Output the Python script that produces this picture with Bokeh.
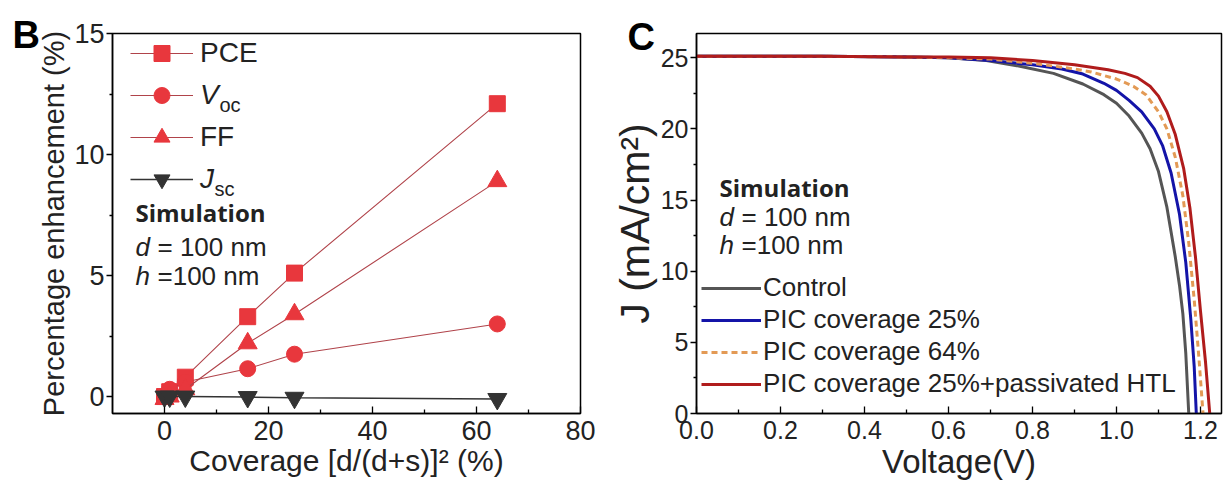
from bokeh.plotting import figure
from bokeh.layouts import row
from bokeh.models import Range1d, Legend, LegendItem, Label, FixedTicker, PrintfTickFormatter
from bokeh.embed import file_html
from bokeh.resources import INLINE

# ---------------- Panel B data ----------------
coverage = [0, 1, 4, 16, 25, 64]
pce = [0.0, 0.2, 0.8, 3.3, 5.1, 12.1]
voc = [0.0, 0.3, 0.6, 1.15, 1.75, 3.0]
ff = [-0.1, 0.0, 0.3, 2.2, 3.4, 8.9]
jsc = [0.0, 0.0, 0.0, -0.02, -0.05, -0.1]
# legend names: (main text, subscript)
series_b = [("PCE", ""), ("V", "oc"), ("FF", ""), ("J", "sc")]

# ---------------- Panel C data ----------------
v_control = [0, 0.3, 0.5, 0.6, 0.69, 0.77, 0.85, 0.92, 0.97, 1.0, 1.03, 1.06, 1.08, 1.10, 1.12, 1.14, 1.15, 1.158, 1.165, 1.172]
j_control = [25.1, 25.1, 25.05, 25.0, 24.8, 24.4, 23.9, 23.15, 22.4, 21.8, 20.9, 19.7, 18.6, 17.0, 14.5, 11.0, 9.0, 7.0, 4.2, 0]
v_pic25 = [0, 0.3, 0.5, 0.6, 0.7, 0.8, 0.87, 0.92, 0.97, 1.0, 1.03, 1.06, 1.09, 1.11, 1.13, 1.15, 1.165, 1.177, 1.185, 1.19]
j_pic25 = [25.1, 25.1, 25.05, 25.0, 24.8, 24.5, 24.2, 23.85, 23.2, 22.7, 22.0, 21.2, 20.0, 18.8, 16.9, 14.0, 10.6, 6.6, 3.3, 0]
v_pic64 = [0, 0.3, 0.5, 0.6, 0.7, 0.8, 0.88, 0.94, 1.0, 1.04, 1.07, 1.1, 1.12, 1.14, 1.158, 1.172, 1.185, 1.196, 1.206]
j_pic64 = [25.1, 25.1, 25.05, 25.0, 24.9, 24.6, 24.3, 24.0, 23.5, 23.0, 22.4, 21.2, 20.0, 18.0, 15.3, 12.0, 8.0, 4.0, 0]
v_pass = [0, 0.3, 0.5, 0.6, 0.7, 0.8, 0.9, 0.98, 1.02, 1.05, 1.08, 1.1, 1.12, 1.14, 1.16, 1.175, 1.188, 1.2, 1.212, 1.222]
j_pass = [25.1, 25.1, 25.05, 25.05, 25.0, 24.8, 24.5, 24.15, 23.9, 23.6, 23.0, 22.3, 21.2, 19.6, 17.2, 14.4, 11.0, 7.2, 3.6, 0]
series_c = ["Control", "PIC coverage 25%", "PIC coverage 64%", "PIC coverage 25%+passivated HTL"]

FONT = "Liberation Sans"
TXT = "#222222"
RED = "#e8373d"
REDLINE = "#b0434a"


def style_axes(p, tick_size, xtitle_size, ytitle_size, x_standoff):
    for ax in (p.xaxis[0], p.yaxis[0]):
        ax.axis_line_width = 1.5
        ax.axis_line_color = "black"
        ax.major_tick_line_width = 1.3
        ax.minor_tick_line_width = 1.3
        ax.major_tick_line_color = "black"
        ax.minor_tick_line_color = "black"
        ax.major_label_text_font = FONT
        ax.major_label_text_font_size = tick_size
        ax.major_label_text_color = TXT
        ax.axis_label_text_font = FONT
        ax.axis_label_text_font_style = "normal"
        ax.axis_label_text_color = TXT
        ax.major_label_standoff = 2
        ax.axis_label_standoff = 1
    p.xaxis.axis_label_text_font_size = xtitle_size
    p.yaxis.axis_label_text_font_size = ytitle_size
    p.xaxis.major_label_standoff = x_standoff
    p.xaxis.major_tick_in = 7
    p.xaxis.major_tick_out = 0
    p.xaxis.minor_tick_in = 4
    p.xaxis.minor_tick_out = 0
    p.yaxis.major_tick_in = 0
    p.yaxis.major_tick_out = 6
    p.yaxis.minor_tick_in = 0
    p.yaxis.minor_tick_out = 3
    p.xgrid.visible = False
    p.ygrid.visible = False
    p.outline_line_color = "black"
    p.outline_line_width = 1.5
    p.background_fill_color = "white"
    p.border_fill_color = "white"


def panel_letter(p, letter, offset, standoff):
    p.title.text = letter
    p.title.align = "left"
    p.title.offset = offset
    p.title.standoff = standoff
    p.title.text_font = FONT
    p.title.text_font_size = "38px"
    p.title.text_font_style = "bold"
    p.title.text_color = "black"


def txt_label(p, x, y, text, size="26px", style="normal", font=FONT):
    p.add_layout(Label(x=x, y=y, x_units="screen", y_units="screen", text=text,
                       text_font=font, text_font_size=size, text_font_style=style,
                       text_color=TXT, text_baseline="middle"))


# ================= Panel B =================
p1 = figure(width=608, height=488, output_backend="svg", toolbar_location=None,
            x_range=Range1d(-10, 80), y_range=Range1d(-0.7, 15),
            min_border_left=112, min_border_right=28, min_border_top=33, min_border_bottom=75)
p1.xaxis.ticker = FixedTicker(ticks=[0, 20, 40, 60, 80], minor_ticks=[10, 30, 50, 70])
p1.yaxis.ticker = FixedTicker(ticks=[0, 5, 10, 15], minor_ticks=[2.5, 7.5, 12.5])
p1.xaxis.axis_label = "Coverage [d/(d+s)]² (%)"
p1.yaxis.axis_label = "Percentage enhancement (%)"
style_axes(p1, "27px", "30px", "29px", 7)
panel_letter(p1, "B", -100, -45)

specs = [(pce, "square", 16), (voc, "circle", 16), (ff, "triangle", 19), (jsc, "inverted_triangle", 19)]
LEG_X, LEG_BOTTOM, ROW = 18, 214, 42
for i, ((name, sub), (vals, marker, size)) in enumerate(zip(series_b, specs)):
    dark = name == "J"
    lc = "#333333" if dark else REDLINE
    fc = "#333333" if dark else RED
    lw = 1.5 if dark else 1.1
    ln = p1.line(coverage, vals, line_color=lc, line_width=lw)
    sc = p1.scatter(coverage, vals, marker=marker, size=size, fill_color=fc, line_color=fc)
    vy = LEG_BOTTOM + (3 - i) * ROW
    leg = Legend(items=[LegendItem(label=name, renderers=[ln, sc])], location=(LEG_X, vy),
                 glyph_width=63, glyph_height=40, padding=0, margin=0,
                 label_standoff=7, label_text_font=FONT, label_text_font_size="28px",
                 label_text_font_style="italic" if sub else "normal",
                 label_text_color=TXT, border_line_color=None, background_fill_alpha=0)
    p1.add_layout(leg)
    if sub:
        sub_x = LEG_X + 63 + 7 + (19 if name == "V" else 14)
        txt_label(p1, sub_x, vy + 20 - 9, sub, size="20px")

txt_label(p1, 23, 201, "Simulation", size="24px", style="bold", font="Open Sans")
txt_label(p1, 23, 167, "d", style="italic")
txt_label(p1, 45, 167, "= 100 nm")
txt_label(p1, 23, 138, "h", style="italic")
txt_label(p1, 45, 138, "=100 nm")

# ================= Panel C =================
p2 = figure(width=620, height=488, output_backend="svg", toolbar_location=None,
            x_range=Range1d(0, 1.25), y_range=Range1d(0, 26.7),
            min_border_left=85, min_border_right=7, min_border_top=33, min_border_bottom=75)
p2.xaxis.ticker = FixedTicker(ticks=[0, 0.2, 0.4, 0.6, 0.8, 1.0, 1.2],
                              minor_ticks=[0.1, 0.3, 0.5, 0.7, 0.9, 1.1])
p2.xaxis.formatter = PrintfTickFormatter(format="%.1f")
p2.yaxis.ticker = FixedTicker(ticks=[0, 5, 10, 15, 20, 25],
                              minor_ticks=[2.5, 7.5, 12.5, 17.5, 22.5])
p2.xaxis.axis_label = "Voltage(V)"
p2.yaxis.axis_label = "J (mA/cm²)"
style_axes(p2, "25px", "33px", "41px", 7)
p2.yaxis.axis_label_standoff = 0
panel_letter(p2, "C", -69, -48)

curves = [(v_control, j_control, "#555555", "solid"),
          (v_pic25, j_pic25, "#1414a8", "solid"),
          (v_pic64, j_pic64, "#e39a55", "6 4"),
          (v_pass, j_pass, "#b01c1c", "solid")]
items_c = []
for name, (vv, jj, col, dash) in zip(series_c, curves):
    r = p2.line(vv, jj, line_color=col, line_width=3, line_dash=dash)
    items_c.append(LegendItem(label=name, renderers=[r]))

leg2 = Legend(items=items_c, location=(5, 14), orientation="vertical",
              glyph_width=60, glyph_height=28, spacing=1, padding=0, margin=0,
              label_standoff=2, label_text_font=FONT, label_text_font_size="26px",
              label_text_color=TXT, border_line_color=None, background_fill_alpha=0)
p2.add_layout(leg2)

txt_label(p2, 23, 226, "Simulation", size="24px", style="bold", font="Open Sans")
txt_label(p2, 23, 197, "d", style="italic")
txt_label(p2, 45, 197, "= 100 nm")
txt_label(p2, 23, 169, "h", style="italic")
txt_label(p2, 45, 169, "=100 nm")

layout = row(p1, p2)
open("out.html", "w").write(file_html(layout, INLINE))
